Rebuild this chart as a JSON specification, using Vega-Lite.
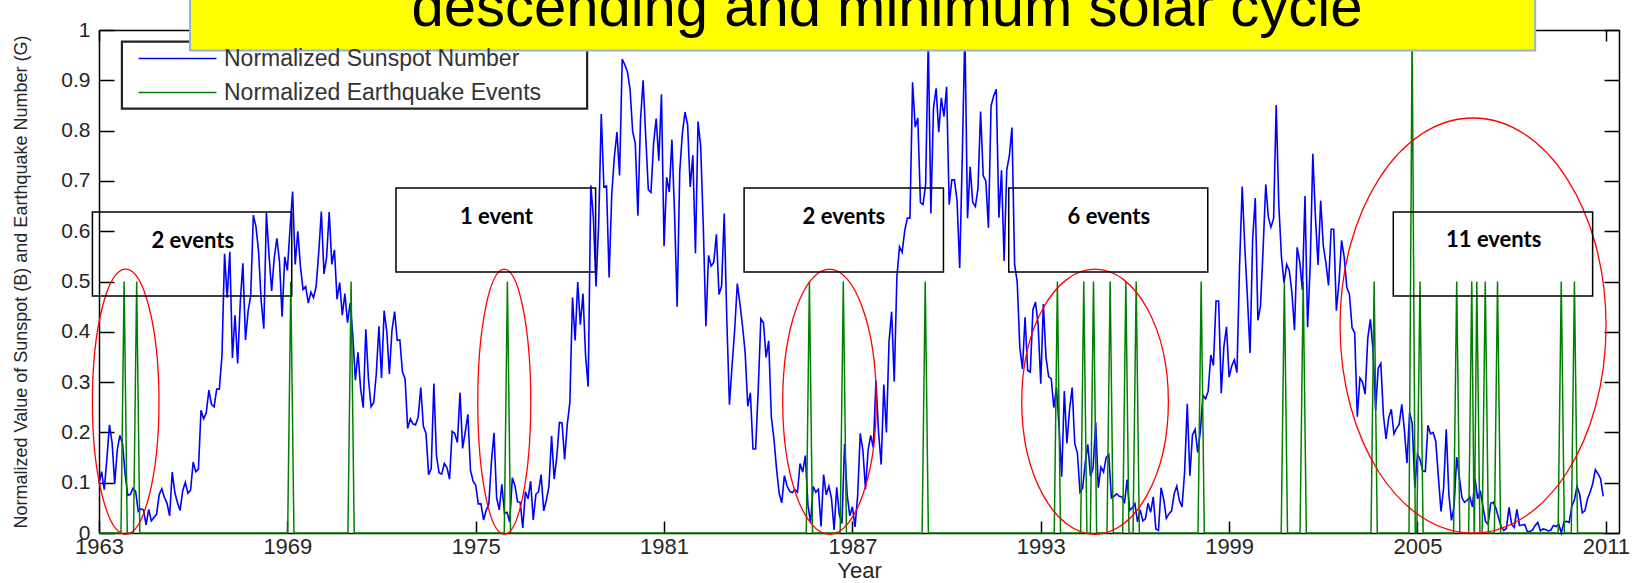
{
"$schema": "https://vega.github.io/schema/vega-lite/v6.json",
"width": 1520, "height": 503,
"autosize": {"type": "none"},
"padding": {"left": 99, "top": 30, "right": 24, "bottom": 50},
"background": "white",
"config": {"view": {"stroke": null}, "font": "Liberation Sans"},
"datasets": {
"sunspot": [
{"x":1963,"y":0.099},{"x":1963.083,"y":0.122},{"x":1963.167,"y":0.086},{"x":1963.25,"y":0.147},{"x":1963.333,"y":0.215},{"x":1963.417,"y":0.180},{"x":1963.5,"y":0.098},{"x":1963.583,"y":0.166},{"x":1963.667,"y":0.194},{"x":1963.75,"y":0.177},{"x":1963.833,"y":0.117},{"x":1963.917,"y":0.075},
{"x":1964,"y":0.077},{"x":1964.083,"y":0.089},{"x":1964.167,"y":0.083},{"x":1964.25,"y":0.043},{"x":1964.333,"y":0.048},{"x":1964.417,"y":0.046},{"x":1964.5,"y":0.016},{"x":1964.583,"y":0.047},{"x":1964.667,"y":0.024},{"x":1964.75,"y":0.031},{"x":1964.833,"y":0.037},{"x":1964.917,"y":0.076},
{"x":1965,"y":0.088},{"x":1965.083,"y":0.071},{"x":1965.167,"y":0.059},{"x":1965.25,"y":0.034},{"x":1965.333,"y":0.121},{"x":1965.417,"y":0.080},{"x":1965.5,"y":0.060},{"x":1965.583,"y":0.045},{"x":1965.667,"y":0.084},{"x":1965.75,"y":0.101},{"x":1965.833,"y":0.079},{"x":1965.917,"y":0.085},
{"x":1966,"y":0.141},{"x":1966.083,"y":0.122},{"x":1966.167,"y":0.127},{"x":1966.25,"y":0.244},{"x":1966.333,"y":0.227},{"x":1966.417,"y":0.239},{"x":1966.5,"y":0.284},{"x":1966.583,"y":0.256},{"x":1966.667,"y":0.251},{"x":1966.75,"y":0.286},{"x":1966.833,"y":0.286},{"x":1966.917,"y":0.352},
{"x":1967,"y":0.555},{"x":1967.083,"y":0.468},{"x":1967.167,"y":0.559},{"x":1967.25,"y":0.348},{"x":1967.333,"y":0.433},{"x":1967.417,"y":0.337},{"x":1967.5,"y":0.458},{"x":1967.583,"y":0.536},{"x":1967.667,"y":0.384},{"x":1967.75,"y":0.441},{"x":1967.833,"y":0.472},{"x":1967.917,"y":0.632},
{"x":1968,"y":0.609},{"x":1968.083,"y":0.560},{"x":1968.167,"y":0.461},{"x":1968.25,"y":0.406},{"x":1968.333,"y":0.636},{"x":1968.417,"y":0.552},{"x":1968.5,"y":0.481},{"x":1968.583,"y":0.547},{"x":1968.667,"y":0.586},{"x":1968.75,"y":0.539},{"x":1968.833,"y":0.430},{"x":1968.917,"y":0.549},
{"x":1969,"y":0.522},{"x":1969.083,"y":0.603},{"x":1969.167,"y":0.679},{"x":1969.25,"y":0.534},{"x":1969.333,"y":0.600},{"x":1969.417,"y":0.530},{"x":1969.5,"y":0.484},{"x":1969.583,"y":0.490},{"x":1969.667,"y":0.457},{"x":1969.75,"y":0.479},{"x":1969.833,"y":0.468},{"x":1969.917,"y":0.490},
{"x":1970,"y":0.558},{"x":1970.083,"y":0.639},{"x":1970.167,"y":0.515},{"x":1970.25,"y":0.548},{"x":1970.333,"y":0.638},{"x":1970.417,"y":0.534},{"x":1970.5,"y":0.563},{"x":1970.583,"y":0.465},{"x":1970.667,"y":0.498},{"x":1970.75,"y":0.433},{"x":1970.833,"y":0.476},{"x":1970.917,"y":0.418},
{"x":1971,"y":0.457},{"x":1971.083,"y":0.395},{"x":1971.167,"y":0.304},{"x":1971.25,"y":0.359},{"x":1971.333,"y":0.288},{"x":1971.417,"y":0.249},{"x":1971.5,"y":0.405},{"x":1971.583,"y":0.307},{"x":1971.667,"y":0.251},{"x":1971.75,"y":0.259},{"x":1971.833,"y":0.316},{"x":1971.917,"y":0.411},
{"x":1972,"y":0.308},{"x":1972.083,"y":0.442},{"x":1972.167,"y":0.401},{"x":1972.25,"y":0.316},{"x":1972.333,"y":0.403},{"x":1972.417,"y":0.440},{"x":1972.5,"y":0.383},{"x":1972.583,"y":0.384},{"x":1972.667,"y":0.320},{"x":1972.75,"y":0.307},{"x":1972.833,"y":0.208},{"x":1972.917,"y":0.227},
{"x":1973,"y":0.217},{"x":1973.083,"y":0.215},{"x":1973.167,"y":0.230},{"x":1973.25,"y":0.289},{"x":1973.333,"y":0.212},{"x":1973.417,"y":0.198},{"x":1973.5,"y":0.116},{"x":1973.583,"y":0.128},{"x":1973.667,"y":0.297},{"x":1973.75,"y":0.154},{"x":1973.833,"y":0.120},{"x":1973.917,"y":0.117},
{"x":1974,"y":0.138},{"x":1974.083,"y":0.130},{"x":1974.167,"y":0.107},{"x":1974.25,"y":0.202},{"x":1974.333,"y":0.198},{"x":1974.417,"y":0.180},{"x":1974.5,"y":0.279},{"x":1974.583,"y":0.168},{"x":1974.667,"y":0.201},{"x":1974.75,"y":0.236},{"x":1974.833,"y":0.125},{"x":1974.917,"y":0.103},
{"x":1975,"y":0.095},{"x":1975.083,"y":0.058},{"x":1975.167,"y":0.058},{"x":1975.25,"y":0.026},{"x":1975.333,"y":0.045},{"x":1975.417,"y":0.057},{"x":1975.5,"y":0.141},{"x":1975.583,"y":0.199},{"x":1975.667,"y":0.070},{"x":1975.75,"y":0.046},{"x":1975.833,"y":0.097},{"x":1975.917,"y":0.039},
{"x":1976,"y":0.041},{"x":1976.083,"y":0.022},{"x":1976.167,"y":0.110},{"x":1976.25,"y":0.094},{"x":1976.333,"y":0.062},{"x":1976.417,"y":0.061},{"x":1976.5,"y":0.010},{"x":1976.583,"y":0.082},{"x":1976.667,"y":0.068},{"x":1976.75,"y":0.103},{"x":1976.833,"y":0.026},{"x":1976.917,"y":0.077},
{"x":1977,"y":0.082},{"x":1977.083,"y":0.116},{"x":1977.167,"y":0.044},{"x":1977.25,"y":0.065},{"x":1977.333,"y":0.093},{"x":1977.417,"y":0.193},{"x":1977.5,"y":0.107},{"x":1977.583,"y":0.151},{"x":1977.667,"y":0.220},{"x":1977.75,"y":0.219},{"x":1977.833,"y":0.146},{"x":1977.917,"y":0.216},
{"x":1978,"y":0.260},{"x":1978.083,"y":0.468},{"x":1978.167,"y":0.383},{"x":1978.25,"y":0.499},{"x":1978.333,"y":0.414},{"x":1978.417,"y":0.476},{"x":1978.5,"y":0.352},{"x":1978.583,"y":0.291},{"x":1978.667,"y":0.691},{"x":1978.75,"y":0.626},{"x":1978.833,"y":0.490},{"x":1978.917,"y":0.614},
{"x":1979,"y":0.833},{"x":1979.083,"y":0.688},{"x":1979.167,"y":0.690},{"x":1979.25,"y":0.508},{"x":1979.333,"y":0.672},{"x":1979.417,"y":0.748},{"x":1979.5,"y":0.797},{"x":1979.583,"y":0.711},{"x":1979.667,"y":0.942},{"x":1979.75,"y":0.931},{"x":1979.833,"y":0.917},{"x":1979.917,"y":0.882},
{"x":1980,"y":0.798},{"x":1980.083,"y":0.775},{"x":1980.167,"y":0.631},{"x":1980.25,"y":0.821},{"x":1980.333,"y":0.900},{"x":1980.417,"y":0.787},{"x":1980.5,"y":0.682},{"x":1980.583,"y":0.677},{"x":1980.667,"y":0.775},{"x":1980.75,"y":0.824},{"x":1980.833,"y":0.740},{"x":1980.917,"y":0.872},
{"x":1981,"y":0.570},{"x":1981.083,"y":0.707},{"x":1981.167,"y":0.678},{"x":1981.25,"y":0.782},{"x":1981.333,"y":0.638},{"x":1981.417,"y":0.450},{"x":1981.5,"y":0.719},{"x":1981.583,"y":0.794},{"x":1981.667,"y":0.837},{"x":1981.75,"y":0.812},{"x":1981.833,"y":0.688},{"x":1981.917,"y":0.751},
{"x":1982,"y":0.556},{"x":1982.083,"y":0.818},{"x":1982.167,"y":0.769},{"x":1982.25,"y":0.610},{"x":1982.333,"y":0.411},{"x":1982.417,"y":0.552},{"x":1982.5,"y":0.531},{"x":1982.583,"y":0.538},{"x":1982.667,"y":0.594},{"x":1982.75,"y":0.474},{"x":1982.833,"y":0.491},{"x":1982.917,"y":0.635},
{"x":1983,"y":0.422},{"x":1983.083,"y":0.255},{"x":1983.167,"y":0.333},{"x":1983.25,"y":0.404},{"x":1983.333,"y":0.496},{"x":1983.417,"y":0.456},{"x":1983.5,"y":0.411},{"x":1983.583,"y":0.359},{"x":1983.667,"y":0.252},{"x":1983.75,"y":0.279},{"x":1983.833,"y":0.167},{"x":1983.917,"y":0.167},
{"x":1984,"y":0.285},{"x":1984.083,"y":0.426},{"x":1984.167,"y":0.418},{"x":1984.25,"y":0.349},{"x":1984.333,"y":0.382},{"x":1984.417,"y":0.231},{"x":1984.5,"y":0.187},{"x":1984.583,"y":0.128},{"x":1984.667,"y":0.079},{"x":1984.75,"y":0.060},{"x":1984.833,"y":0.114},{"x":1984.917,"y":0.094},
{"x":1985,"y":0.083},{"x":1985.083,"y":0.080},{"x":1985.167,"y":0.086},{"x":1985.25,"y":0.081},{"x":1985.333,"y":0.138},{"x":1985.417,"y":0.121},{"x":1985.5,"y":0.154},{"x":1985.583,"y":0.056},{"x":1985.667,"y":0.020},{"x":1985.75,"y":0.093},{"x":1985.833,"y":0.081},{"x":1985.917,"y":0.087},
{"x":1986,"y":0.013},{"x":1986.083,"y":0.116},{"x":1986.167,"y":0.076},{"x":1986.25,"y":0.093},{"x":1986.333,"y":0.069},{"x":1986.417,"y":0.006},{"x":1986.5,"y":0.091},{"x":1986.583,"y":0.037},{"x":1986.667,"y":0.019},{"x":1986.75,"y":0.177},{"x":1986.833,"y":0.076},{"x":1986.917,"y":0.034},
{"x":1987,"y":0.052},{"x":1987.083,"y":0.012},{"x":1987.167,"y":0.074},{"x":1987.25,"y":0.198},{"x":1987.333,"y":0.165},{"x":1987.417,"y":0.087},{"x":1987.5,"y":0.165},{"x":1987.583,"y":0.194},{"x":1987.667,"y":0.170},{"x":1987.75,"y":0.303},{"x":1987.833,"y":0.200},{"x":1987.917,"y":0.136},
{"x":1988,"y":0.295},{"x":1988.083,"y":0.200},{"x":1988.167,"y":0.381},{"x":1988.25,"y":0.440},{"x":1988.333,"y":0.301},{"x":1988.417,"y":0.509},{"x":1988.5,"y":0.569},{"x":1988.583,"y":0.558},{"x":1988.667,"y":0.601},{"x":1988.75,"y":0.626},{"x":1988.833,"y":0.626},{"x":1988.917,"y":0.896},
{"x":1989,"y":0.807},{"x":1989.083,"y":0.825},{"x":1989.167,"y":0.657},{"x":1989.25,"y":0.653},{"x":1989.333,"y":0.693},{"x":1989.417,"y":0.981},{"x":1989.5,"y":0.635},{"x":1989.583,"y":0.845},{"x":1989.667,"y":0.884},{"x":1989.75,"y":0.797},{"x":1989.833,"y":0.865},{"x":1989.917,"y":0.828},
{"x":1990,"y":0.887},{"x":1990.083,"y":0.653},{"x":1990.167,"y":0.702},{"x":1990.25,"y":0.702},{"x":1990.333,"y":0.661},{"x":1990.417,"y":0.527},{"x":1990.5,"y":0.747},{"x":1990.583,"y":1.000},{"x":1990.667,"y":0.626},{"x":1990.75,"y":0.728},{"x":1990.833,"y":0.657},{"x":1990.917,"y":0.649},
{"x":1991,"y":0.685},{"x":1991.083,"y":0.838},{"x":1991.167,"y":0.710},{"x":1991.25,"y":0.700},{"x":1991.333,"y":0.607},{"x":1991.417,"y":0.849},{"x":1991.5,"y":0.869},{"x":1991.583,"y":0.882},{"x":1991.667,"y":0.627},{"x":1991.75,"y":0.721},{"x":1991.833,"y":0.541},{"x":1991.917,"y":0.722},
{"x":1992,"y":0.750},{"x":1992.083,"y":0.806},{"x":1992.167,"y":0.534},{"x":1992.25,"y":0.499},{"x":1992.333,"y":0.369},{"x":1992.417,"y":0.326},{"x":1992.5,"y":0.429},{"x":1992.583,"y":0.323},{"x":1992.667,"y":0.320},{"x":1992.75,"y":0.444},{"x":1992.833,"y":0.459},{"x":1992.917,"y":0.413},
{"x":1993,"y":0.297},{"x":1993.083,"y":0.455},{"x":1993.167,"y":0.349},{"x":1993.25,"y":0.311},{"x":1993.333,"y":0.307},{"x":1993.417,"y":0.249},{"x":1993.5,"y":0.290},{"x":1993.583,"y":0.211},{"x":1993.667,"y":0.112},{"x":1993.75,"y":0.282},{"x":1993.833,"y":0.178},{"x":1993.917,"y":0.245},
{"x":1994,"y":0.289},{"x":1994.083,"y":0.178},{"x":1994.167,"y":0.159},{"x":1994.25,"y":0.081},{"x":1994.333,"y":0.089},{"x":1994.417,"y":0.140},{"x":1994.5,"y":0.176},{"x":1994.583,"y":0.113},{"x":1994.667,"y":0.129},{"x":1994.75,"y":0.220},{"x":1994.833,"y":0.090},{"x":1994.917,"y":0.131},
{"x":1995,"y":0.121},{"x":1995.083,"y":0.150},{"x":1995.167,"y":0.156},{"x":1995.25,"y":0.070},{"x":1995.333,"y":0.073},{"x":1995.417,"y":0.078},{"x":1995.5,"y":0.073},{"x":1995.583,"y":0.072},{"x":1995.667,"y":0.059},{"x":1995.75,"y":0.106},{"x":1995.833,"y":0.045},{"x":1995.917,"y":0.050},
{"x":1996,"y":0.058},{"x":1996.083,"y":0.022},{"x":1996.167,"y":0.046},{"x":1996.25,"y":0.024},{"x":1996.333,"y":0.028},{"x":1996.417,"y":0.059},{"x":1996.5,"y":0.041},{"x":1996.583,"y":0.072},{"x":1996.667,"y":0.008},{"x":1996.75,"y":0.005},{"x":1996.833,"y":0.090},{"x":1996.917,"y":0.067},
{"x":1997,"y":0.029},{"x":1997.083,"y":0.038},{"x":1997.167,"y":0.044},{"x":1997.25,"y":0.078},{"x":1997.333,"y":0.093},{"x":1997.417,"y":0.064},{"x":1997.5,"y":0.052},{"x":1997.583,"y":0.122},{"x":1997.667,"y":0.257},{"x":1997.75,"y":0.114},{"x":1997.833,"y":0.195},{"x":1997.917,"y":0.206},
{"x":1998,"y":0.160},{"x":1998.083,"y":0.202},{"x":1998.167,"y":0.274},{"x":1998.25,"y":0.267},{"x":1998.333,"y":0.282},{"x":1998.417,"y":0.354},{"x":1998.5,"y":0.333},{"x":1998.583,"y":0.461},{"x":1998.667,"y":0.461},{"x":1998.75,"y":0.278},{"x":1998.833,"y":0.370},{"x":1998.917,"y":0.410},
{"x":1999,"y":0.310},{"x":1999.083,"y":0.332},{"x":1999.167,"y":0.344},{"x":1999.25,"y":0.319},{"x":1999.333,"y":0.532},{"x":1999.417,"y":0.689},{"x":1999.5,"y":0.568},{"x":1999.583,"y":0.469},{"x":1999.667,"y":0.358},{"x":1999.75,"y":0.584},{"x":1999.833,"y":0.666},{"x":1999.917,"y":0.423},
{"x":2000,"y":0.451},{"x":2000.083,"y":0.565},{"x":2000.167,"y":0.693},{"x":2000.25,"y":0.628},{"x":2000.333,"y":0.608},{"x":2000.417,"y":0.625},{"x":2000.5,"y":0.851},{"x":2000.583,"y":0.653},{"x":2000.667,"y":0.549},{"x":2000.75,"y":0.497},{"x":2000.833,"y":0.534},{"x":2000.917,"y":0.522},
{"x":2001,"y":0.478},{"x":2001.083,"y":0.403},{"x":2001.167,"y":0.568},{"x":2001.25,"y":0.539},{"x":2001.333,"y":0.483},{"x":2001.417,"y":0.670},{"x":2001.5,"y":0.409},{"x":2001.583,"y":0.532},{"x":2001.667,"y":0.754},{"x":2001.75,"y":0.628},{"x":2001.833,"y":0.533},{"x":2001.917,"y":0.661},
{"x":2002,"y":0.571},{"x":2002.083,"y":0.537},{"x":2002.167,"y":0.492},{"x":2002.25,"y":0.604},{"x":2002.333,"y":0.604},{"x":2002.417,"y":0.442},{"x":2002.5,"y":0.498},{"x":2002.583,"y":0.582},{"x":2002.667,"y":0.548},{"x":2002.75,"y":0.488},{"x":2002.833,"y":0.475},{"x":2002.917,"y":0.408},
{"x":2003,"y":0.398},{"x":2003.083,"y":0.231},{"x":2003.167,"y":0.308},{"x":2003.25,"y":0.300},{"x":2003.333,"y":0.276},{"x":2003.417,"y":0.387},{"x":2003.5,"y":0.425},{"x":2003.583,"y":0.364},{"x":2003.667,"y":0.244},{"x":2003.75,"y":0.328},{"x":2003.833,"y":0.337},{"x":2003.917,"y":0.233},
{"x":2004,"y":0.187},{"x":2004.083,"y":0.229},{"x":2004.167,"y":0.246},{"x":2004.25,"y":0.197},{"x":2004.333,"y":0.208},{"x":2004.417,"y":0.216},{"x":2004.5,"y":0.256},{"x":2004.583,"y":0.205},{"x":2004.667,"y":0.139},{"x":2004.75,"y":0.240},{"x":2004.833,"y":0.218},{"x":2004.917,"y":0.090},
{"x":2005,"y":0.157},{"x":2005.083,"y":0.146},{"x":2005.167,"y":0.123},{"x":2005.25,"y":0.122},{"x":2005.333,"y":0.214},{"x":2005.417,"y":0.197},{"x":2005.5,"y":0.200},{"x":2005.583,"y":0.182},{"x":2005.667,"y":0.111},{"x":2005.75,"y":0.043},{"x":2005.833,"y":0.090},{"x":2005.917,"y":0.206},
{"x":2006,"y":0.077},{"x":2006.083,"y":0.025},{"x":2006.167,"y":0.053},{"x":2006.25,"y":0.151},{"x":2006.333,"y":0.112},{"x":2006.417,"y":0.070},{"x":2006.5,"y":0.061},{"x":2006.583,"y":0.065},{"x":2006.667,"y":0.072},{"x":2006.75,"y":0.052},{"x":2006.833,"y":0.108},{"x":2006.917,"y":0.068},
{"x":2007,"y":0.084},{"x":2007.083,"y":0.054},{"x":2007.167,"y":0.023},{"x":2007.25,"y":0.017},{"x":2007.333,"y":0.059},{"x":2007.417,"y":0.061},{"x":2007.5,"y":0.049},{"x":2007.583,"y":0.030},{"x":2007.667,"y":0.012},{"x":2007.75,"y":0.005},{"x":2007.833,"y":0.009},{"x":2007.917,"y":0.051},
{"x":2008,"y":0.017},{"x":2008.083,"y":0.011},{"x":2008.167,"y":0.047},{"x":2008.25,"y":0.015},{"x":2008.333,"y":0.016},{"x":2008.417,"y":0.017},{"x":2008.5,"y":0.003},{"x":2008.583,"y":0.003},{"x":2008.667,"y":0.006},{"x":2008.75,"y":0.015},{"x":2008.833,"y":0.021},{"x":2008.917,"y":0.004},
{"x":2009,"y":0.008},{"x":2009.083,"y":0.007},{"x":2009.167,"y":0.004},{"x":2009.25,"y":0.006},{"x":2009.333,"y":0.015},{"x":2009.417,"y":0.013},{"x":2009.5,"y":0.018},{"x":2009.583,"y":0.000},{"x":2009.667,"y":0.022},{"x":2009.75,"y":0.023},{"x":2009.833,"y":0.021},{"x":2009.917,"y":0.053},
{"x":2010,"y":0.066},{"x":2010.083,"y":0.093},{"x":2010.167,"y":0.077},{"x":2010.25,"y":0.040},{"x":2010.333,"y":0.044},{"x":2010.417,"y":0.068},{"x":2010.5,"y":0.081},{"x":2010.583,"y":0.098},{"x":2010.667,"y":0.126},{"x":2010.75,"y":0.118},{"x":2010.833,"y":0.108},{"x":2010.917,"y":0.073}
],
"quakes": [
{"x":1963,"y":0},
{"x":1963.7,"y":0},{"x":1963.8,"y":0.5},{"x":1963.9,"y":0},
{"x":1964.1,"y":0},{"x":1964.2,"y":0.5},{"x":1964.3,"y":0},
{"x":1969.01,"y":0},{"x":1969.11,"y":0.5},{"x":1969.21,"y":0},
{"x":1970.93,"y":0},{"x":1971.03,"y":0.5},{"x":1971.13,"y":0},
{"x":1975.91,"y":0},{"x":1976.01,"y":0.5},{"x":1976.11,"y":0},
{"x":1985.53,"y":0},{"x":1985.63,"y":0.5},{"x":1985.73,"y":0},
{"x":1986.61,"y":0},{"x":1986.71,"y":0.5},{"x":1986.81,"y":0},
{"x":1989.22,"y":0},{"x":1989.32,"y":0.5},{"x":1989.42,"y":0},
{"x":1993.43,"y":0},{"x":1993.53,"y":0.5},{"x":1993.63,"y":0},
{"x":1994.27,"y":0},{"x":1994.37,"y":0.5},{"x":1994.47,"y":0},
{"x":1994.58,"y":0},{"x":1994.68,"y":0.5},{"x":1994.78,"y":0},
{"x":1995.11,"y":0},{"x":1995.21,"y":0.5},{"x":1995.31,"y":0},
{"x":1995.61,"y":0},{"x":1995.71,"y":0.5},{"x":1995.81,"y":0},
{"x":1995.94,"y":0},{"x":1996.04,"y":0.5},{"x":1996.14,"y":0},
{"x":1998.01,"y":0},{"x":1998.11,"y":0.5},{"x":1998.21,"y":0},
{"x":2000.66,"y":0},{"x":2000.76,"y":0.5},{"x":2000.86,"y":0},
{"x":2001.26,"y":0},{"x":2001.36,"y":0.5},{"x":2001.46,"y":0},
{"x":2003.52,"y":0},{"x":2003.62,"y":0.5},{"x":2003.72,"y":0},
{"x":2004.73,"y":0},{"x":2004.83,"y":1.0},{"x":2004.93,"y":0},
{"x":2004.98,"y":0},{"x":2005.08,"y":0.5},{"x":2005.18,"y":0},
{"x":2006.15,"y":0},{"x":2006.25,"y":0.5},{"x":2006.35,"y":0},
{"x":2006.63,"y":0},{"x":2006.73,"y":0.5},{"x":2006.806,"y":0},
{"x":2006.814,"y":0},{"x":2006.89,"y":0.5},{"x":2006.99,"y":0},
{"x":2007.06,"y":0},{"x":2007.16,"y":0.5},{"x":2007.26,"y":0},
{"x":2007.45,"y":0},{"x":2007.55,"y":0.5},{"x":2007.65,"y":0},
{"x":2009.48,"y":0},{"x":2009.58,"y":0.5},{"x":2009.68,"y":0},
{"x":2009.9,"y":0},{"x":2010.0,"y":0.5},{"x":2010.1,"y":0},
{"x":2010.917,"y":0}
],
"boxes": [
{"x1":1962.79,"x2":1969.14,"y1":0.471,"y2":0.638,"tx":1965.99,"ty":0.581,"label":"2 events"},
{"x1":1972.46,"x2":1978.82,"y1":0.519,"y2":0.686,"tx":1975.66,"ty":0.629,"label":"1 event"},
{"x1":1983.55,"x2":1989.9,"y1":0.519,"y2":0.686,"tx":1986.73,"ty":0.629,"label":"2 events"},
{"x1":1991.98,"x2":1998.32,"y1":0.519,"y2":0.686,"tx":1995.17,"ty":0.629,"label":"6 events"},
{"x1":2004.23,"x2":2010.58,"y1":0.471,"y2":0.638,"tx":2007.43,"ty":0.582,"label":"11 events"}
],
"ellipses": [
{"id":"a","x":1963.85,"y":0.261},
{"id":"b","x":1975.91,"y":0.261},
{"id":"c","x":1986.27,"y":0.261},
{"id":"d","x":1994.73,"y":0.261},
{"id":"e","x":2006.77,"y":0.4125}
],
"legendframe": [{"x1":1963.73,"x2":1978.55,"y1":0.8435,"y2":0.977}],
"titlebox": [{"x1":1965.9,"x2":2008.75,"y1":0.959,"y2":1.08,"tx":1988.1,"ty":1.007,"label":"descending and minimum solar cycle"}]
},
"resolve": {"axis": {"x": "independent", "y": "independent"}},
"layer": [
{"data": {"name": "legendframe"},
 "mark": {"type": "rect", "fill": "white", "stroke": "#222222", "strokeWidth": 2.2},
 "encoding": {
  "x": {"field": "x1", "type": "quantitative", "scale": {"domain": [1963, 2011.42], "nice": false, "zero": false}, "axis": null},
  "x2": {"field": "x2"},
  "y": {"field": "y1", "type": "quantitative", "scale": {"domain": [0, 1], "nice": false}, "axis": null},
  "y2": {"field": "y2"}
 }},
{"data": {"name": "sunspot"},
 "mark": {"type": "line", "strokeWidth": 1.6},
 "encoding": {
  "x": {"field": "x", "type": "quantitative", "scale": {"domain": [1963, 2011.42], "nice": false, "zero": false},
    "axis": {"orient": "bottom", "values": [1963,1969,1975,1981,1987,1993,1999,2005,2011], "format": "d",
      "title": "Year", "titleFont": "Liberation Sans", "titleFontSize": 22, "titleFontWeight": "normal", "titleColor": "#262626", "titlePadding": 3,
      "labelFont": "Liberation Sans", "labelFontSize": 22, "labelColor": "#262626", "labelPadding": 15, "labelFlush": false, "labelOverlap": false,
      "tickSize": -12, "tickColor": "black", "tickWidth": 1.5, "domainColor": "black", "domainWidth": 1.5, "grid": false}},
  "y": {"field": "y", "type": "quantitative", "scale": {"domain": [0, 1], "nice": false},
    "axis": {"orient": "left", "values": [0,0.1,0.2,0.3,0.4,0.5,0.6,0.7,0.8,0.9,1], "format": "~g",
      "title": "Normalized Value of Sunspot (B) and Earthquake Number (G)", "titleFont": "Liberation Sans", "titleFontSize": 18, "titleFontWeight": "normal", "titleColor": "#262626", "titlePadding": 30,
      "labelFont": "Liberation Sans", "labelFontSize": 21, "labelColor": "#262626", "labelPadding": 24, "labelFlush": false, "labelOverlap": false,
      "tickSize": -15, "tickColor": "black", "tickWidth": 1.5, "domainColor": "black", "domainWidth": 1.5, "grid": false}},
  "color": {"datum": "Normalized Sunspot Number", "type": "nominal",
    "scale": {"domain": ["Normalized Sunspot Number", "Normalized Earthquake Events"], "range": ["#0000FF", "#008000"]},
    "legend": {"orient": "none", "legendX": 67, "legendY": 17, "title": null, "symbolType": "M-4,0H4", "symbolSize": 380, "symbolStrokeWidth": 1.6,
      "labelFont": "Liberation Sans", "labelFontSize": 23, "labelColor": "#333333", "labelOffset": 35, "labelLimit": 600, "rowPadding": 10, "padding": 0}}
 }},
{"data": {"name": "quakes"},
 "mark": {"type": "line", "strokeWidth": 1.5},
 "encoding": {
  "x": {"field": "x", "type": "quantitative", "scale": {"domain": [1963, 2011.42], "nice": false, "zero": false},
    "axis": {"orient": "top", "values": [1963,1969,1975,1981,1987,1993,1999,2005,2011], "labels": false, "title": null,
      "tickSize": -11, "tickColor": "black", "tickWidth": 1.5, "domainColor": "black", "domainWidth": 1.5, "grid": false}},
  "y": {"field": "y", "type": "quantitative", "scale": {"domain": [0, 1], "nice": false},
    "axis": {"orient": "right", "values": [0,0.1,0.2,0.3,0.4,0.5,0.6,0.7,0.8,0.9,1], "labels": false, "title": null,
      "tickSize": -15, "tickColor": "black", "tickWidth": 1.5, "domainColor": "black", "domainWidth": 1.5, "grid": false}},
  "color": {"datum": "Normalized Earthquake Events", "type": "nominal"}
 }},
{"data": {"name": "ellipses"},
 "mark": {"type": "point", "filled": false, "stroke": "#FF0000", "strokeWidth": 1.3, "size": 172225, "opacity": 1},
 "encoding": {
  "x": {"field": "x", "type": "quantitative", "scale": {"domain": [1963, 2011.42], "nice": false, "zero": false}, "axis": null},
  "y": {"field": "y", "type": "quantitative", "scale": {"domain": [0, 1], "nice": false}, "axis": null},
  "shape": {"field": "id", "type": "nominal", "legend": null,
    "scale": {"domain": ["a","b","c","d","e"], "range": [
      "M0.1605,0C0.1605,0.3527 0.0886,0.6386 0,0.6386C-0.0886,0.6386 -0.1605,0.3527 -0.1605,0C-0.1605,-0.3527 -0.0886,-0.6386 0,-0.6386C0.0886,-0.6386 0.1605,-0.3527 0.1605,0Z",
      "M0.1277,0C0.1277,0.3527 0.0705,0.6386 0,0.6386C-0.0705,0.6386 -0.1277,0.3527 -0.1277,0C-0.1277,-0.3527 -0.0705,-0.6386 0,-0.6386C0.0705,-0.6386 0.1277,-0.3527 0.1277,0Z",
      "M0.2255,0C0.2255,0.3527 0.1245,0.6386 0,0.6386C-0.1245,0.6386 -0.2255,0.3527 -0.2255,0C-0.2255,-0.3527 -0.1245,-0.6386 0,-0.6386C0.1245,-0.6386 0.2255,-0.3527 0.2255,0Z",
      "M0.3533,0C0.3533,0.3527 0.1951,0.6386 0,0.6386C-0.1951,0.6386 -0.3533,0.3527 -0.3533,0C-0.3533,-0.3527 -0.1951,-0.6386 0,-0.6386C0.1951,-0.6386 0.3533,-0.3527 0.3533,0Z",
      "M0.641,0C0.641,0.5523 0.354,1 0,1C-0.354,1 -0.641,0.5523 -0.641,0C-0.641,-0.5523 -0.354,-1 0,-1C0.354,-1 0.641,-0.5523 0.641,0Z"
    ]}}
 }},
{"data": {"name": "boxes"},
 "mark": {"type": "rect", "fill": "white", "fillOpacity": 0, "stroke": "black", "strokeWidth": 1.5},
 "encoding": {
  "x": {"field": "x1", "type": "quantitative", "scale": {"domain": [1963, 2011.42], "nice": false, "zero": false}, "axis": null},
  "x2": {"field": "x2"},
  "y": {"field": "y1", "type": "quantitative", "scale": {"domain": [0, 1], "nice": false}, "axis": null},
  "y2": {"field": "y2"}
 }},
{"data": {"name": "boxes"},
 "mark": {"type": "text", "font": "Lato", "fontWeight": "bold", "fontSize": 22, "color": "black", "align": "center", "baseline": "middle"},
 "encoding": {
  "x": {"field": "tx", "type": "quantitative", "scale": {"domain": [1963, 2011.42], "nice": false, "zero": false}, "axis": null},
  "y": {"field": "ty", "type": "quantitative", "scale": {"domain": [0, 1], "nice": false}, "axis": null},
  "text": {"field": "label"}
 }},
{"data": {"name": "titlebox"},
 "mark": {"type": "rect", "fill": "#FFFF00", "stroke": "#8FB4DE", "strokeWidth": 2},
 "encoding": {
  "x": {"field": "x1", "type": "quantitative", "scale": {"domain": [1963, 2011.42], "nice": false, "zero": false}, "axis": null},
  "x2": {"field": "x2"},
  "y": {"field": "y1", "type": "quantitative", "scale": {"domain": [0, 1], "nice": false}, "axis": null},
  "y2": {"field": "y2"}
 }},
{"data": {"name": "titlebox"},
 "mark": {"type": "text", "font": "Liberation Sans", "fontSize": 58, "color": "black", "align": "center", "baseline": "alphabetic"},
 "encoding": {
  "x": {"field": "tx", "type": "quantitative", "scale": {"domain": [1963, 2011.42], "nice": false, "zero": false}, "axis": null},
  "y": {"field": "ty", "type": "quantitative", "scale": {"domain": [0, 1], "nice": false}, "axis": null},
  "text": {"field": "label"}
 }}
]
}
